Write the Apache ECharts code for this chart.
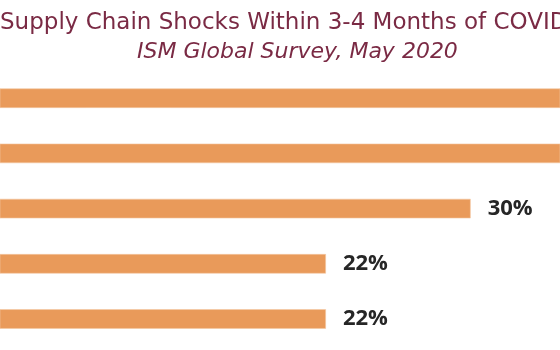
<!DOCTYPE html>
<html>
<head>
<meta charset="utf-8">
<script src="https://cdn.jsdelivr.net/npm/echarts@6/dist/echarts.min.js"></script>
<style>html,body{margin:0;padding:0;background:#fff}#c{width:560px;height:350px}</style>
</head>
<body>
<div id="c"></div>
<script>
const titleText = 'Supply Chain Shocks Within 3-4 Months of COVID';
const subtitleText = 'ISM Global Survey, May 2020';
const categories = ['Shock A', 'Shock B', 'Shock C', 'Shock D', 'Shock E'];
const values = [48, 40, 30, 22, 22];

const chart = echarts.init(document.getElementById('c'));
// axis window: value 0 sits 72px left of the visible area (the chart is cropped)
const axisMin = 3.98;
const axisMax = 34.94;
chart.setOption({
  backgroundColor: '#fff',
  animation: false,
  title: [
    { text: titleText, left: -5, top: 7,
      textStyle: { fontFamily: 'DejaVu Sans', fontSize: 23, fontWeight: 'normal', color: '#7A2A44' } },
    { text: subtitleText, left: 132, top: 36,
      textStyle: { fontFamily: 'DejaVu Sans', fontSize: 22, fontWeight: 'normal', fontStyle: 'italic', color: '#7A2A44' } }
  ],
  grid: { left: 0, right: 0, top: 70.6, height: 276, containLabel: false, outerBoundsMode: 'none' },
  xAxis: { type: 'value', min: axisMin, max: axisMax, show: false },
  yAxis: { type: 'category', data: categories, inverse: true, show: false },
  series: [{
    type: 'bar',
    data: values,
    barWidth: 19.5,
    clip: true,
    itemStyle: { color: '#E99A5A', borderColor: '#F3C7A2', borderWidth: 0.6 },
    label: {
      show: true, position: 'right', distance: 17,
      formatter: p => p.value + '%',
      fontFamily: 'Open Sans', fontSize: 22, fontWeight: 'bold', color: '#262626'
    }
  }]
});
</script>
</body>
</html>
